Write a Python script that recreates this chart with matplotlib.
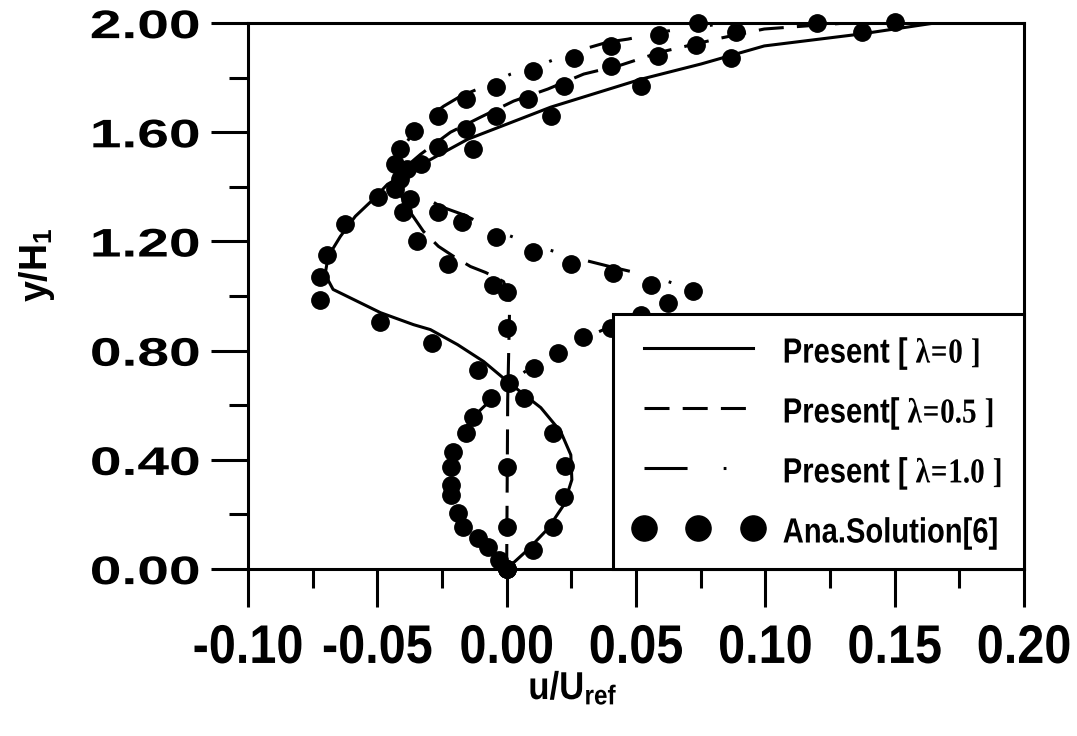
import matplotlib
matplotlib.use('Agg')
import matplotlib.pyplot as plt
from matplotlib.ticker import MultipleLocator, FormatStrFormatter
from matplotlib.font_manager import FontProperties
from matplotlib.patheffects import AbstractPathEffect
from matplotlib.transforms import Affine2D

plt.rcParams['font.family'] = ['Liberation Sans', 'DejaVu Sans']
plt.rcParams['font.weight'] = 'bold'
plt.rcParams['lines.scale_dashes'] = False
plt.rcParams['mathtext.fontset'] = 'custom'
plt.rcParams['mathtext.rm'] = 'Liberation Serif'
plt.rcParams['mathtext.it'] = 'Liberation Serif'
plt.rcParams['mathtext.bf'] = 'Liberation Sans:bold'

# ---------------- data ----------------
# Present, lambda = 0 (solid)
lam0_x = [0.0, 0.0081, 0.0159, 0.0221, 0.0252, 0.0248, 0.0209, 0.0132, 0.0008, -0.0089,
          -0.0190, -0.0295, -0.0360, -0.0488, -0.0671, -0.0702, -0.0690, -0.0643, -0.0585,
          -0.0516, -0.0461, -0.0306, -0.0151, 0.0171, 0.0519, 0.0752, 0.0996, 0.1372, 0.1655]
lam0_y = [0.0, 0.070, 0.147, 0.235, 0.327, 0.418, 0.503, 0.591, 0.683, 0.760,
          0.822, 0.877, 0.895, 0.939, 1.024, 1.079, 1.145, 1.218, 1.292,
          1.354, 1.409, 1.494, 1.574, 1.692, 1.794, 1.850, 1.916, 1.960, 2.000]

# Present, lambda = 0.5 (dashed)
lam05_x = [0.0, 0.0004, 0.0012, -0.0012, -0.0081, -0.0140, -0.0205, -0.0264, -0.0322,
           -0.0372, -0.0411, -0.0419, -0.0391, -0.0333, -0.0217, -0.0101, 0.0027, 0.0159,
           0.0298, 0.0442, 0.0597, 0.0829, 0.0996, 0.1314]
lam05_y = [0.0, 0.620, 0.987, 1.053, 1.086, 1.108, 1.145, 1.182, 1.237,
           1.306, 1.372, 1.428, 1.472, 1.519, 1.600, 1.655, 1.714, 1.758,
           1.813, 1.846, 1.894, 1.945, 1.978, 2.000]

# Present, lambda = 1.0 (long dash - dot - dot)
lam10_x = [0.0, -0.0062, -0.0120, -0.0171, -0.0205, -0.0217, -0.0205, -0.0167, -0.0101, 0.0,
           0.0093, 0.0194, 0.0287, 0.0411, 0.0519, 0.0616, 0.0713, 0.0578, 0.0411, 0.0260,
           0.0120, -0.0023, -0.0171, -0.0256, -0.0333, -0.0391, -0.0419, -0.0399, -0.0353,
           -0.0295, -0.0244, -0.0178, -0.0112, 0.0016, 0.0159, 0.0260, 0.0391, 0.0469,
           0.0624, 0.0740, 0.0849]
lam10_y = [0.0, 0.062, 0.114, 0.172, 0.253, 0.345, 0.437, 0.510, 0.583, 0.675,
           0.738, 0.796, 0.840, 0.892, 0.943, 0.987, 1.024, 1.068, 1.105, 1.141,
           1.182, 1.233, 1.299, 1.328, 1.372, 1.428, 1.483, 1.545, 1.611,
           1.659, 1.695, 1.732, 1.758, 1.813, 1.857, 1.894, 1.930, 1.941,
           1.971, 1.985, 2.000]

# Analytical solution [6]
ana0_x = [0.0, 0.0101, 0.0178, 0.0221, 0.0225, 0.0178, 0.0066, -0.0109, -0.0287, -0.0488,
          -0.0721, -0.0721, -0.0694, -0.0624, -0.0496, -0.0411, -0.0333, -0.0132, 0.0171,
          0.0519, 0.0868, 0.1372, 0.1500]
ana0_y = [0.0, 0.070, 0.154, 0.264, 0.378, 0.499, 0.628, 0.730, 0.829, 0.906,
          0.987, 1.068, 1.152, 1.262, 1.361, 1.428, 1.483, 1.538, 1.659,
          1.769, 1.872, 1.967, 2.005]

ana05_x = [0.0, 0.0, 0.0, 0.0, 0.0, -0.0054, -0.0225, -0.0345, -0.0399, -0.0430, -0.0384,
           -0.0267, -0.0159, -0.0043, 0.0081, 0.0221, 0.0403, 0.0585, 0.0733, 0.0888, 0.1198]
ana05_y = [0.0, 0.154, 0.374, 0.884, 1.013, 1.042, 1.116, 1.200, 1.306, 1.391, 1.464,
           1.545, 1.611, 1.659, 1.721, 1.769, 1.842, 1.879, 1.919, 1.967, 2.000]

ana10_x = [0.0, -0.0031, -0.0074, -0.0112, -0.0167, -0.0190, -0.0217, -0.0217, -0.0217,
           -0.0209, -0.0159, -0.0132, -0.0062, 0.0008, 0.0105, 0.0198, 0.0295, 0.0403,
           0.0519, 0.0624, 0.0721, 0.0558, 0.0411, 0.0248, 0.0101, -0.0043, -0.0171,
           -0.0264, -0.0372, -0.0430, -0.0411, -0.0360, -0.0267, -0.0159, -0.0043, 0.0101,
           0.0260, 0.0403, 0.0589, 0.0740]
ana10_y = [0.0, 0.033, 0.081, 0.114, 0.154, 0.206, 0.272, 0.308, 0.374,
           0.429, 0.499, 0.558, 0.628, 0.683, 0.738, 0.793, 0.848, 0.884,
           0.932, 0.976, 1.017, 1.042, 1.086, 1.116, 1.160, 1.215, 1.270,
           1.306, 1.354, 1.483, 1.538, 1.604, 1.659, 1.721, 1.765, 1.824,
           1.872, 1.916, 1.956, 2.000]

x_ticks = [-0.10, -0.05, 0.00, 0.05, 0.10, 0.15, 0.20]
y_ticks = [0.00, 0.40, 0.80, 1.20, 1.60, 2.00]

labels = [r'Present [ $\mathrm{λ\!=\!0\ ]}$',
          r'Present[ $\mathrm{λ\!=\!0.5\ ]}$',
          r'Present [ $\mathrm{λ\!=\!1.0\ ]}$',
          'Ana.Solution[6]']


class Stretch(AbstractPathEffect):
    """Draw the glyphs of a text scaled about their own centre."""

    def __init__(self, sx=1.0, sy=1.0):
        super().__init__((0, 0))
        self.sx, self.sy = sx, sy

    def draw_path(self, renderer, gc, tpath, affine, rgbFace=None):
        ext = tpath.get_extents(affine)
        cx = 0.5 * (ext.x0 + ext.x1)
        cy = 0.5 * (ext.y0 + ext.y1)
        aff = affine + Affine2D().translate(-cx, -cy).scale(self.sx, self.sy).translate(cx, cy)
        renderer.draw_path(gc, tpath, aff, rgbFace)


# ---------------- figure ----------------
fig = plt.figure(figsize=(10.77, 7.36), dpi=100)
ax = fig.add_axes([248 / 1077, 1 - 569 / 736, (1024 - 248) / 1077, (569 - 23) / 736])

LW = 2.2
ax.plot(lam0_x, lam0_y, color='k', lw=LW, label=labels[0])
ax.plot(lam05_x, lam05_y, color='k', lw=LW, ls=(0, (18, 9.5)), label=labels[1])
ax.plot(lam10_x, lam10_y, color='k', lw=LW, ls=(0, (31, 26, 2, 29, 2, 29)), label=labels[2])

MS = 12.5
ax.plot(ana0_x, ana0_y, 'o', color='k', ms=MS, ls='none', clip_on=False, label=labels[3])
ax.plot(ana05_x, ana05_y, 'o', color='k', ms=MS, ls='none', clip_on=False)
ax.plot(ana10_x, ana10_y, 'o', color='k', ms=MS, ls='none', clip_on=False)

ax.set_xlim(x_ticks[0], x_ticks[-1])
ax.set_ylim(y_ticks[0], y_ticks[-1])
ax.set_xticks(x_ticks)
ax.set_yticks(y_ticks)
ax.xaxis.set_minor_locator(MultipleLocator(0.025))
ax.yaxis.set_minor_locator(MultipleLocator(0.2))
ax.xaxis.set_major_formatter(FormatStrFormatter('%.2f'))
ax.yaxis.set_major_formatter(FormatStrFormatter('%.2f'))

for s in ax.spines.values():
    s.set_linewidth(LW)
    s.set_color('k')

ax.tick_params(axis='both', which='major', direction='out', length=27, width=LW, color='k')
ax.tick_params(axis='both', which='minor', direction='out', length=14, width=LW, color='k')
ax.tick_params(axis='y', which='major', pad=7, labelsize=41)
ax.tick_params(axis='x', which='major', pad=14, labelsize=35)

for t in ax.yaxis.get_major_ticks():
    t.label1.set_fontweight('bold')
    t.label1.set_path_effects([Stretch(1.0, 0.7)])
for t in ax.xaxis.get_major_ticks():
    t.label1.set_fontweight('bold')
    t.label1.set_path_effects([Stretch(1.0, 1.12)])

xl = ax.set_xlabel(r'u/U$_{\mathbf{ref}}$', fontweight='bold', fontsize=25)
xl.set_path_effects([Stretch(1.0, 1.12)])
ax.set_ylabel(r'y/H$_{\mathbf{1}}$', fontweight='bold', fontsize=27)
ax.xaxis.set_label_coords((573 - 248) / 776, -(670 - 569) / 546)
ax.yaxis.set_label_coords((57 - 248) / 776, (569 - 265) / 546)

FS = 21
leg = ax.legend(loc='lower right', bbox_to_anchor=(1.0, 0.0), borderaxespad=0,
                prop=FontProperties(family='Liberation Sans', weight='bold', size=FS),
                handlelength=4.35, handleheight=1.3, handletextpad=0.72,
                borderpad=0.75, labelspacing=0.9,
                numpoints=3, markerscale=1.45, fancybox=False, framealpha=1,
                edgecolor='k')
leg.get_frame().set_linewidth(LW)
for t in leg.get_texts():
    t.set_path_effects([Stretch(1.0, 1.2)])

fig.savefig('out.png', dpi=100)
